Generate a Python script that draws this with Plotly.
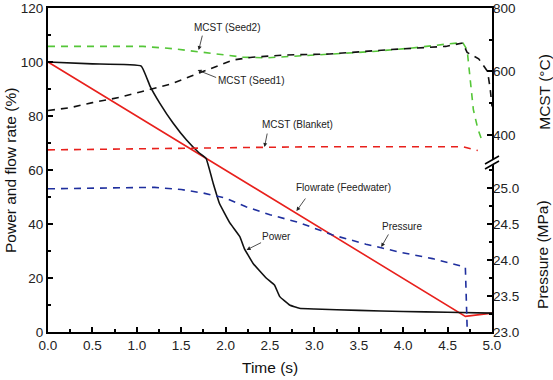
import plotly.graph_objects as go

# ---------------- data ----------------
time_power = [0, 0.5, 1.05, 1.15, 1.26, 1.41, 1.56, 1.70, 1.78, 1.86, 1.93, 2.05, 2.16,
              2.21, 2.31, 2.46, 2.55, 2.61, 2.72, 2.83, 3.0, 3.5, 4.0, 4.5, 5.0]
power = [100, 99.3, 98.5, 91.0, 84.7, 77.3, 71.1, 66.4, 64.3, 55.1, 47.7, 40.3, 35.3,
         31.0, 25.4, 19.9, 17.4, 13.1, 10.0, 8.8, 8.5, 8.0, 7.6, 7.3, 7.0]

time_flow = [0, 4.70, 5.0]
flow = [100, 5.8, 7.0]

time_pressure = [0, 0.5, 1.2, 1.5, 1.75, 2.0, 2.23, 2.5, 2.83, 3.2, 3.58, 3.96, 4.33,
                 4.55, 4.70, 4.72]
pressure = [24.99, 25.0, 25.01, 24.98, 24.93, 24.86, 24.74, 24.63, 24.52, 24.35, 24.22,
            24.11, 24.02, 23.95, 23.90, 23.06]

time_seed2 = [0, 0.5, 1.07, 1.4, 1.71, 2.0, 2.2, 2.46, 2.83, 3.2, 3.66, 4.1, 4.48, 4.67,
              4.72, 4.76, 4.79, 4.84, 4.89]
mcst_seed2 = [679, 680, 679, 672, 662, 652, 645, 643, 648, 655, 663, 674, 686, 691,
              668, 560, 480, 420, 380]

time_seed1 = [0, 0.25, 0.5, 0.8, 1.05, 1.4, 1.6, 1.8, 2.08, 2.3, 2.68, 3.17, 3.8, 4.48,
              4.67, 4.72, 4.85, 4.95, 4.98, 5.0]
mcst_seed1 = [477, 486, 502, 518, 536, 562, 584, 605, 636, 645, 652, 655, 668, 679,
              690, 660, 640, 600, 545, 490]

time_blanket = [0, 1.0, 2.0, 3.0, 4.0, 4.67, 4.84]
mcst_blanket = [353, 357, 361, 363, 363, 363, 351]

x_ticks = [0, 0.5, 1.0, 1.5, 2.0, 2.5, 3.0, 3.5, 4.0, 4.5, 5.0]
left_ticks = [0, 20, 40, 60, 80, 100, 120]
mcst_ticks = [400, 600, 800]
pressure_ticks = [23.0, 23.5, 24.0, 24.5, 25.0]

# ---------------- styling ----------------
FONT = "Liberation Sans, Arial, sans-serif"
BLACK = "#111111"
RED = "#e8201c"
GREEN = "#55c638"
BLUE = "#1f2f9e"
DASH = "7px,6px"

fig = go.Figure()

fig.add_trace(go.Scatter(x=time_seed2, y=mcst_seed2, yaxis="y2", mode="lines",
                         line=dict(color=GREEN, width=1.6, dash=DASH)))
fig.add_trace(go.Scatter(x=time_seed1, y=mcst_seed1, yaxis="y2", mode="lines",
                         line=dict(color=BLACK, width=1.6, dash=DASH)))
fig.add_trace(go.Scatter(x=time_blanket, y=mcst_blanket, yaxis="y2", mode="lines",
                         line=dict(color=RED, width=1.6, dash=DASH)))
fig.add_trace(go.Scatter(x=time_pressure, y=pressure, yaxis="y3", mode="lines",
                         line=dict(color=BLUE, width=1.6, dash=DASH)))
fig.add_trace(go.Scatter(x=time_flow, y=flow, mode="lines",
                         line=dict(color=RED, width=1.6)))
fig.add_trace(go.Scatter(x=time_power, y=power, mode="lines",
                         line=dict(color=BLACK, width=1.6, shape="spline", smoothing=0.3)))

tickfont = dict(family=FONT, size=13.5, color="#222222")
titlefont = dict(family=FONT, size=15.5, color="#111111")

common = dict(showgrid=False, zeroline=False, ticks="inside", ticklen=5, tickwidth=1.5,
              tickcolor="black", tickfont=tickfont, automargin=False)

fig.update_layout(
    width=553, height=380,
    margin=dict(l=48, r=61, t=8, b=48),
    paper_bgcolor="white", plot_bgcolor="rgba(0,0,0,0)",
    showlegend=False,
    font=dict(family=FONT),
    xaxis=dict(range=[0, 5], tickvals=x_ticks, tickformat=".1f",
               showline=True, linewidth=2, linecolor="black", mirror=True,
               minor=dict(ticks="inside", ticklen=3, tickwidth=1.5, dtick=0.25,
                          tickcolor="black"),
               **common),
    yaxis=dict(range=[0, 120], tickvals=left_ticks,
               showline=True, linewidth=2, linecolor="black", mirror=True,
               minor=dict(ticks="inside", ticklen=3, tickwidth=1.5, dtick=10,
                          tickcolor="black"),
               **common),
    yaxis2=dict(domain=[0.531, 1], range=[321.3, 800], anchor="x", side="right",
                tickvals=mcst_ticks, showline=False,
                minor=dict(ticks="inside", ticklen=3, tickwidth=1.5, dtick=100,
                           tickcolor="black"),
                **common),
    yaxis3=dict(domain=[0, 0.506], range=[23.0, 25.278], anchor="x", side="right",
                tickvals=pressure_ticks, tickformat=".1f", showline=False,
                minor=dict(ticks="inside", ticklen=3, tickwidth=1.5, dtick=0.25,
                           tickcolor="black"),
                **common),
)

# axis titles
titles = [
    ("Time (s)", 0.5, -0.111, 0),
    ("Power and flow rate (%)", -0.0856, 0.5, -90),
    ("MCST (°C)", 1.119, 0.741, -90),
    ("Pressure (MPa)", 1.115, 0.238, -90),
]
for text, px, py, ang in titles:
    fig.add_annotation(x=px, y=py, xref="paper", yref="paper", text=text, showarrow=False,
                       textangle=ang, xanchor="center", yanchor="middle", font=titlefont)

# axis break mark on the right axis
brk_y = 0.5247
fig.add_shape(type="path", xref="paper", yref="paper", xsizemode="pixel", ysizemode="pixel",
              xanchor=1, yanchor=brk_y, path="M -8 -3 L 8 6 L 8 1 L -8 -8 Z",
              fillcolor="white", line=dict(width=0), layer="above")
fig.add_shape(type="line", xref="paper", yref="paper", xsizemode="pixel", ysizemode="pixel",
              xanchor=1, yanchor=brk_y, x0=-7, y0=-2, x1=7, y1=6,
              line=dict(color="black", width=1.5), layer="above")
fig.add_shape(type="line", xref="paper", yref="paper", xsizemode="pixel", ysizemode="pixel",
              xanchor=1, yanchor=brk_y, x0=-7, y0=-7, x1=7, y1=1,
              line=dict(color="black", width=1.5), layer="above")

# labels with arrows
labels = [
    ("MCST (Seed2)", 2.022, 112.6, 1.697, 104.4, 4, -16),
    ("MCST (Seed1)", 2.292, 93.3, 1.685, 97.0, 20, 8),
    ("MCST (Blanket)", 2.809, 76.7, 2.438, 68.5, 3, -15),
    ("Flowrate (Feedwater)", 3.326, 53.7, 2.798, 44.8, 10, -14),
    ("Pressure", 3.989, 38.9, 3.753, 31.5, 8, -14),
    ("Power", 2.573, 35.2, 2.236, 30.4, 16, -8),
]
for text, tx, ty, hx, hy, ax, ay in labels:
    fig.add_annotation(x=tx, y=ty, xref="x", yref="y", text=text, showarrow=False,
                       font=dict(family=FONT, size=10, color="#222222"))
    fig.add_annotation(x=hx, y=hy, xref="x", yref="y", text="", showarrow=True,
                       ax=ax, ay=ay, arrowhead=2, arrowsize=1, arrowwidth=0.8,
                       arrowcolor="#222222")

fig.write_html("out.html", config={"displayModeBar": False},
               post_script="document.body.style.margin='0';document.body.style.overflow='hidden';")
